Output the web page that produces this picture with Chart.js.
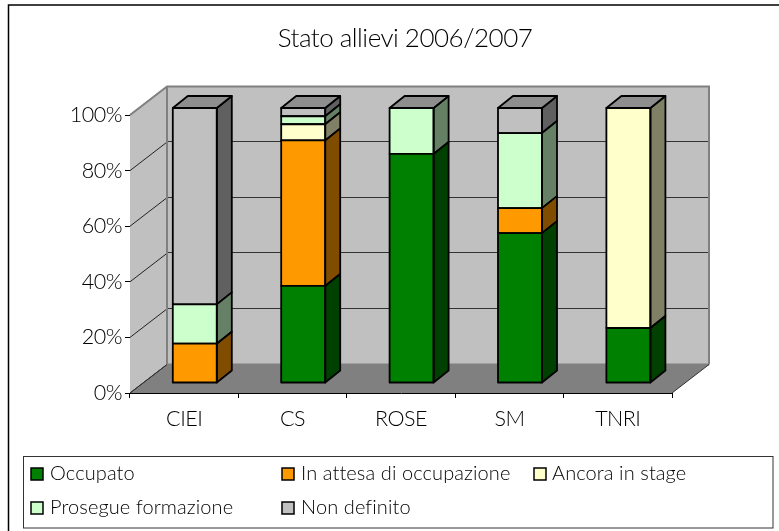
<!DOCTYPE html>
<html><head><meta charset="utf-8">
<style>html,body{margin:0;padding:0;background:#fff}#w{position:relative;width:779px;height:531px}</style>
<script src="https://cdn.jsdelivr.net/npm/chart.js@4"></script></head>
<body><div id="w"><canvas id="c" width="779" height="531"></canvas></div>
<script>
const categories = ['CIEI','CS','ROSE','SM','TNRI'];
const seriesNames = ['Occupato','In attesa di occupazione','Ancora in stage','Prosegue formazione','Non definito'];
const occupato = [null,35.3,83.3,54.5,20];
const inAttesa = [14.3,52.9,null,9.1,null];
const ancoraInStage = [null,5.9,null,null,80];
const prosegue = [14.3,2.9,16.7,27.3,null];
const nonDefinito = [71.4,3,null,9.1,null];
const titleText = 'Stato allievi 2006/2007';
const FACE = ['#008000','#FF9900','#FFFFCC','#CCFFCC','#C0C0C0'];
const SIDE = ['#004000','#804D00','#808066','#668066','#606060'];
const TOP = '#8E8E8E';
const FONT = 'Lato, sans-serif';
const ALL = [occupato,inAttesa,ancoraInStage,prosegue,nonDefinito];

const WALL = {dx:37, dy:-28.5};
const FRONT = {dx:10.6, dy:-10, sy:275/278};
const BOX = {dx:15, dy:-12};

function poly(ctx, pts, fill, stroke, lw){
  ctx.beginPath();
  pts.forEach((p,i)=> i?ctx.lineTo(p[0],p[1]):ctx.moveTo(p[0],p[1]));
  ctx.closePath();
  if(fill){ctx.fillStyle=fill;ctx.fill();}
  if(stroke){ctx.strokeStyle=stroke;ctx.lineWidth=lw;ctx.lineJoin='round';ctx.stroke();}
}
const threeD = {
  id:'threeD',
  beforeDraw(chart){
    const ctx=chart.ctx;
    ctx.save();
    ctx.fillStyle='#fff';ctx.fillRect(0,0,chart.width,chart.height);
    ctx.strokeStyle='#000';ctx.lineWidth=1.5;
    ctx.beginPath();ctx.moveTo(8.5,chart.height);ctx.lineTo(8.5,5);ctx.lineTo(chart.width,5);ctx.stroke();
    // legend
    ctx.strokeStyle='#333';ctx.lineWidth=1;
    ctx.strokeRect(23.5,456.5,749.5,71.5);
    const cols=[[31,50],[282,301],[534,552],[31,50],[282,301]];
    const rows=[474,474,474,508,508];
    ctx.font='300 20px '+FONT;ctx.textBaseline='middle';ctx.letterSpacing='0.1px';
    seriesNames.forEach((n,i)=>{
      ctx.fillStyle=FACE[i];ctx.fillRect(cols[i][0],rows[i]-6,12,12);
      ctx.strokeStyle='#000';ctx.lineWidth=1.5;ctx.strokeRect(cols[i][0],rows[i]-6,12,12);
      ctx.fillStyle='#000';ctx.fillText(n,cols[i][1],rows[i]);
    });
    ctx.restore();
    ctx.letterSpacing='-0.5px';
  },
  afterLayout(chart){
    const t=chart.titleBlock; if(t){t.left=277-50;t.right=533+50;}
  },
  beforeDatasetsDraw(chart){
    const ctx=chart.ctx,{left,right,bottom,top}=chart.chartArea,y=chart.scales.y;
    const d=WALL;
    ctx.save();
    poly(ctx,[[left,top],[left+d.dx,top+d.dy],[left+d.dx,bottom+d.dy],[left,bottom]],'#C0C0C0');
    poly(ctx,[[left+d.dx,top+d.dy],[right+d.dx,top+d.dy],[right+d.dx,bottom+d.dy],[left+d.dx,bottom+d.dy]],'#C0C0C0');
    poly(ctx,[[left,bottom],[left+d.dx,bottom+d.dy],[right+d.dx,bottom+d.dy],[right,bottom]],'#808080');
    y.ticks.forEach(t=>{
      const p=y.getPixelForValue(t.value);
      if(t.value>0){
      ctx.strokeStyle='#333';ctx.lineWidth=1;
      ctx.beginPath();ctx.moveTo(left+d.dx,Math.round(p+d.dy)-.5);ctx.lineTo(right+d.dx,Math.round(p+d.dy)-.5);ctx.stroke();
      }
      ctx.strokeStyle=t.value==100?'#808080':'#222';ctx.lineWidth=1;
      ctx.beginPath();ctx.moveTo(left,p);ctx.lineTo(left+d.dx,p+d.dy);ctx.stroke();
    });
    ctx.strokeStyle='#808080';ctx.lineWidth=2;
    ctx.beginPath();ctx.moveTo(left,top);ctx.lineTo(left+d.dx,top+d.dy);ctx.lineTo(right+d.dx,top+d.dy);ctx.lineTo(right+d.dx,bottom+d.dy);ctx.stroke();
    ctx.beginPath();ctx.moveTo(left+d.dx,top+d.dy);ctx.lineTo(left+d.dx,bottom+d.dy);ctx.lineTo(right+d.dx,bottom+d.dy);ctx.stroke();
    ctx.strokeStyle='#333';ctx.lineWidth=1;
    ctx.beginPath();ctx.moveTo(left,bottom);ctx.lineTo(left+d.dx,bottom+d.dy);ctx.stroke();
    ctx.beginPath();ctx.moveTo(right,bottom);ctx.lineTo(right+d.dx,bottom+d.dy);ctx.stroke();
    ctx.restore();
  },
  beforeDatasetDraw(chart){
    const ctx=chart.ctx,b=chart.chartArea.bottom;
    ctx.save();
    ctx.translate(FRONT.dx,b+FRONT.dy);ctx.scale(1,FRONT.sy);ctx.translate(0,-b);
  },
  afterDatasetDraw(chart,args){
    const ctx=chart.ctx,b=chart.chartArea.bottom;
    ctx.restore();
    const my=v=>b+FRONT.dy+(v-b)*FRONT.sy;
    const i=args.index;
    args.meta.data.forEach((el,k)=>{
      if(ALL[i][k]==null) return;
      const l=el.x-el.width/2+FRONT.dx,r=el.x+el.width/2+FRONT.dx,t=my(el.y),u=my(el.base);
      const lw=1.8,D=BOX;
      poly(ctx,[[r,t],[r+D.dx,t+D.dy],[r+D.dx,u+D.dy],[r,u]],SIDE[i],'#000',lw);
      let last=true;
      for(let j=i+1;j<ALL.length;j++) if(ALL[j][k]!=null) last=false;
      if(last) poly(ctx,[[l,t],[l+D.dx,t+D.dy],[r+D.dx,t+D.dy],[r,t]],TOP,'#000',lw);
      ctx.strokeStyle='#000';ctx.lineWidth=lw;ctx.strokeRect(l,t,r-l,u-t);
    });
  }
};
new Chart(document.getElementById('c'),{
  type:'bar',
  plugins:[threeD],
  data:{labels:categories,datasets:seriesNames.map((n,i)=>({
    label:n,data:ALL[i],backgroundColor:FACE[i],borderWidth:0,clip:false,
    categoryPercentage:1,barPercentage:0.406
  }))},
  options:{
    responsive:false,animation:false,
    layout:{padding:{left:60,right:107,top:0,bottom:0}},
    plugins:{
      legend:{display:false},tooltip:{enabled:false},
      title:{display:true,text:titleText,color:'#000',align:'center',
        font:{family:FONT,size:26,weight:'300'},padding:{top:23,bottom:60.8}}
    },
    scales:{
      x:{stacked:true,
        grid:{drawOnChartArea:false,color:'#000',tickLength:5,tickWidth:1},
        border:{color:'#000',width:1},
        ticks:{color:'#000',font:{family:FONT,size:21.5,weight:'300'},padding:8,maxRotation:0},
        afterFit(s){s.height=138;}
      },
      y:{stacked:true,min:0,max:100,
        grid:{drawOnChartArea:false,color:'#000',tickLength:5,tickWidth:1},
        border:{color:'#000',width:1},
        ticks:{stepSize:20,color:'#000',font:{family:FONT,size:21.5,weight:'300'},padding:3,callback:v=>v+'%'},
        afterFit(s){s.width=70;}
      }
    }
  }
});
</script></body></html>
